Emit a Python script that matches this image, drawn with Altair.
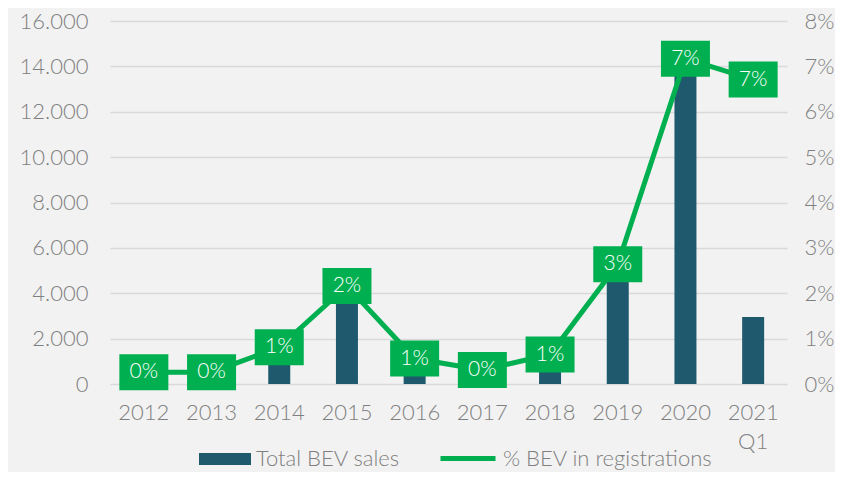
import altair as alt
import pandas as pd

years = ["2012", "2013", "2014", "2015", "2016", "2017", "2018", "2019", "2020", "2021 Q1"]
sales = [400, 500, 1500, 4000, 1200, 700, 1500, 5500, 14300, 2950]
share = [0.0026, 0.0026, 0.0081, 0.0216, 0.0056, 0.0031, 0.0065, 0.0264, 0.0717, 0.0671]
bar_series = "Total BEV sales"
line_series = "% BEV in registrations"
sales_ticks = [0, 2000, 4000, 6000, 8000, 10000, 12000, 14000, 16000]
share_ticks = [0, 0.01, 0.02, 0.03, 0.04, 0.05, 0.06, 0.07, 0.08]

df = pd.DataFrame({
    "year": years,
    "sales": sales,
    "share": share,
    "bar_series": bar_series,
    "line_series": line_series,
})

FONT = "Lato"
GRAY = "#7f7f7f"
NAVY = "#1f596d"
GREEN = "#00b050"
FS = 22
SVG_W, SVG_H = 827, 464
PAD_L, PAD_T = 102, 13
PLOT_W, PLOT_H = 677, 363
LEG_CY = 451  # legend centre, svg coordinates

x = alt.X(
    "year:N", sort=years, title=None,
    scale=alt.Scale(paddingInner=0.5, paddingOuter=0.25),
    axis=alt.Axis(
        labelExpr="datum.value == '2021 Q1' ? ['2021', 'Q1'] : datum.value",
        labelAngle=0, ticks=False, domain=False, labelPadding=18,
        labelFontSize=FS, labelColor=GRAY, labelLineHeight=29,
    ),
)

bars = alt.Chart(df).mark_bar(size=22).encode(
    x=x,
    y=alt.Y(
        "sales:Q", title=None, scale=alt.Scale(domain=[0, 16000]),
        axis=alt.Axis(
            values=sales_ticks, orient="left",
            labelExpr="replace(format(datum.value, ','), ',', '.')",
            ticks=False, domain=False, grid=True, gridColor="#d9d9d9", gridWidth=1.5,
            labelPadding=22, labelFontSize=FS, labelColor=GRAY,
        ),
    ),
    color=alt.Color(
        "bar_series:N",
        scale=alt.Scale(domain=[bar_series], range=[NAVY]),
        legend=alt.Legend(
            title=None, orient="none", legendX=89, legendY=LEG_CY - PAD_T - 26,
            symbolType="M-1,-0.23H1V0.23H-1Z", symbolSize=2704, symbolStrokeWidth=0,
            labelFontSize=22, labelColor=GRAY, labelOffset=5, labelLimit=400,
        ),
    ),
)

y2 = alt.Y(
    "share:Q", title=None, scale=alt.Scale(domain=[0, 0.08]),
    axis=alt.Axis(
        values=share_ticks, format=".0%", orient="right",
        ticks=False, domain=False, grid=False,
        labelPadding=17, labelFontSize=FS, labelColor=GRAY,
    ),
)

line = alt.Chart(df).mark_line(strokeWidth=5).encode(
    x=x, y=y2,
    stroke=alt.Stroke(
        "line_series:N",
        scale=alt.Scale(domain=[line_series], range=[GREEN]),
        legend=alt.Legend(
            title=None, orient="none", legendX=328, legendY=LEG_CY - PAD_T - 30.5,
            symbolType="stroke", symbolSize=3025, symbolStrokeWidth=5,
            labelFontSize=22, labelColor=GRAY, labelOffset=5, labelLimit=400,
        ),
    ),
)

boxes = alt.Chart(df).mark_point(
    shape="M-1,-0.735H1V0.735H-1Z", size=2401, filled=True, opacity=1,
    color=GREEN, strokeWidth=0,
).encode(x=x, y=y2)

labels = alt.Chart(df).mark_text(
    color="white", fontSize=21, font=FONT, fontWeight=300, baseline="middle",
).encode(x=x, y=y2, text=alt.Text("share:Q", format=".0%"))

chart = alt.layer(
    bars, alt.layer(line, boxes, labels)
).resolve_scale(y="independent").properties(
    width=PLOT_W, height=PLOT_H, background="#f2f2f2",
    padding={"left": PAD_L, "top": PAD_T, "right": SVG_W - PAD_L - PLOT_W,
             "bottom": SVG_H - PAD_T - PLOT_H},
    autosize="none",
).configure(font=FONT).configure_view(stroke=None).configure_axis(
    labelFont=FONT, labelFontWeight=300
).configure_legend(labelFont=FONT, labelFontWeight=300)

chart.save("out.html", embed_options={"renderer": "svg", "actions": False})
